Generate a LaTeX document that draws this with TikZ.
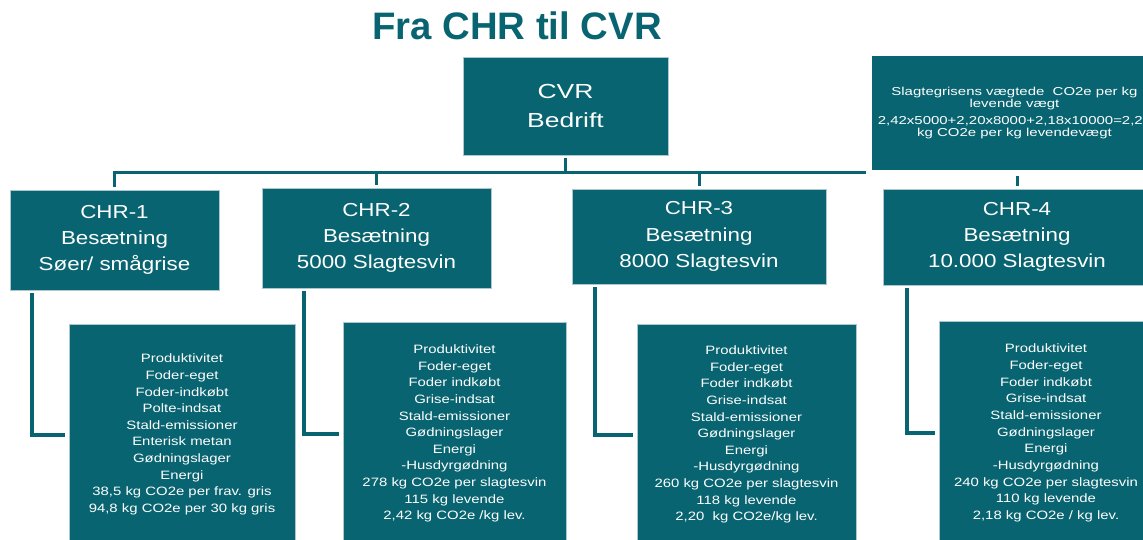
\documentclass[tikz,border=0pt]{standalone}
\usepackage{fontspec}
\setmainfont{Liberation Sans}
\newfontfamily\boxfont[FakeStretch=1.3]{Liberation Sans}
\newfontfamily\chrfont[FakeStretch=1.19]{Liberation Sans}
\newfontfamily\detfont[FakeStretch=1.23]{Liberation Sans}
\definecolor{chrteal}{RGB}{8,100,112}
\definecolor{boxedge}{RGB}{170,200,206}
\begin{document}
\begin{tikzpicture}[x=0.02cm,y=-0.02cm,
  box/.style={fill=chrteal,draw=boxedge,line width=0.4pt,text=white,align=center,inner sep=0pt},
  chr/.style={box,minimum height=1.96cm,font=\chrfont\fontsize{10.7pt}{15pt}\selectfont},
  detail/.style={box,minimum height=4.42cm,font=\detfont\fontsize{6.9pt}{9.47pt}\selectfont},
  tree/.style={draw=chrteal,line width=0.06cm,shorten <=0.06cm},
  elbow/.style={draw=chrteal,line width=0.08cm,shorten <=0.06cm,shorten >=0.08cm}]
\useasboundingbox (0,0) rectangle (1143,539);
\clip (0,0) rectangle (1143,539);
\node[text=chrteal,font=\fontsize{21.8pt}{26pt}\selectfont\bfseries] (title) at (517,26) {Fra CHR til CVR};
\node[box,minimum width=4.1cm,minimum height=1.96cm,font=\boxfont\fontsize{11.6pt}{17pt}\selectfont] (cvr) at (565.5,106) {CVR\\Bedrift};
% CHR-besaetninger
\node[chr,minimum width=4.18cm,minimum height=2cm] (chr1) at (114.5,240) {CHR-1\\Besætning\\Søer/ smågrise};
\node[chr,minimum width=4.58cm,minimum height=2cm] (chr2) at (376.5,238) {CHR-2\\Besætning\\5000 Slagtesvin};
\node[chr,minimum width=5.08cm,minimum height=1.9cm] (chr3) at (699,236.5) {CHR-3\\Besætning\\8000 Slagtesvin};
\node[chr,minimum width=5.36cm,minimum height=1.92cm] (chr4) at (1017,237) {CHR-4\\Besætning\\10.000 Slagtesvin};
\coordinate (bus) at (0,172);
\draw[tree] (cvr.south) -- (cvr.south |- bus);
\draw[tree,shorten >=0.06cm] (chr1.north) -- (chr1.north |- bus) -- (chr4.north |- bus) -- (chr4.north);
\foreach \n in {chr2,chr3} \draw[tree] (\n.north) -- (\n.north |- bus);
\node[box,draw=white,line width=0.12cm,minimum width=5.82cm,minimum height=2.4cm,font=\boxfont\fontsize{6.55pt}{6.8pt}\selectfont] (slagt) at (1014.5,113)
  {Slagtegrisens vægtede\ \ CO2e per kg\\levende vægt\\[2.8pt]2,42x5000+2,20x8000+2,18x10000=2,24\\kg CO2e per kg levendevægt};
% opgoerelser
\node[detail,minimum width=4.52cm] (d1) at (182,434.5) {Produktivitet\\Foder-eget\\Foder-indkøbt\\Polte-indsat\\Stald-emissioner\\Enterisk metan\\Gødningslager\\Energi\\38,5 kg CO2e per frav. gris\\94,8 kg CO2e per 30 kg gris};
\node[detail,minimum width=4.46cm,minimum height=4.46cm] (d2) at (454.5,433.5) {Produktivitet\\Foder-eget\\Foder indkøbt\\Grise-indsat\\Stald-emissioner\\Gødningslager\\Energi\\-Husdyrgødning\\278 kg CO2e per slagtesvin\\115 kg levende\\2,42 kg CO2e /kg lev.};
\node[detail,minimum width=4.38cm] (d3) at (746.5,434.5) {Produktivitet\\Foder-eget\\Foder indkøbt\\Grise-indsat\\Stald-emissioner\\Gødningslager\\Energi\\-Husdyrgødning\\260 kg CO2e per slagtesvin\\118 kg levende\\2,20\ \ kg CO2e/kg lev.};
\node[detail,minimum width=4.28cm,minimum height=4.48cm] (d4) at (1046,433) {Produktivitet\\Foder-eget\\Foder indkøbt\\Grise-indsat\\Stald-emissioner\\Gødningslager\\Energi\\-Husdyrgødning\\240 kg CO2e per slagtesvin\\110 kg levende\\2,18 kg CO2e / kg lev.};
\draw[elbow] ([xshift=0.44cm]chr1.south west) |- (d1.west);
\draw[elbow] ([xshift=0.84cm]chr2.south west) |- (d2.west);
\draw[elbow] ([xshift=0.46cm]chr3.south west) |- (d3.west);
\draw[elbow] ([xshift=0.48cm]chr4.south west) |- (d4.west);
\end{tikzpicture}
\end{document}
